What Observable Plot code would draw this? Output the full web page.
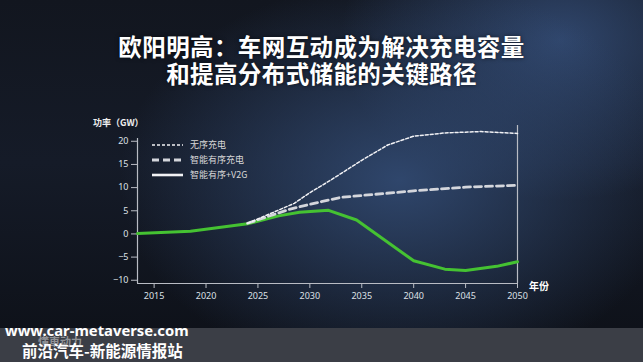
<!DOCTYPE html>
<html><head><meta charset="utf-8">
<script src="https://cdn.jsdelivr.net/npm/d3@7"></script>
<script src="https://cdn.jsdelivr.net/npm/@observablehq/plot@0.6"></script>
<style>
html,body{margin:0;padding:0;width:643px;height:362px;overflow:hidden;}
body{position:relative;font-family:"Noto Sans CJK SC","Noto Sans",sans-serif;
 background:
  radial-gradient(ellipse 280px 200px at 400px 180px, rgba(52,78,120,0.85), rgba(52,78,120,0) 100%),
  radial-gradient(ellipse 220px 160px at 560px 40px, rgba(60,90,140,0.7), rgba(60,90,140,0) 100%),
  linear-gradient(180deg,#12161f 0%,#151b28 45%,#0d1017 100%);}
#chart{position:absolute;left:0;top:0;}
.abs{position:absolute;}
.title{left:0;width:643px;text-align:center;color:#fff;font-weight:bold;font-size:23.5px;line-height:24px;letter-spacing:0.4px;text-shadow:0 0 4px rgba(0,0,0,.6);}
#t1{top:34px;}
#t2{top:61px;}
#ylab{left:93px;top:116px;color:#eee;font-size:9px;font-weight:bold;}
#xlab{left:529px;top:278px;color:#fff;font-size:10px;font-weight:bold;}
#legend{left:152px;top:137px;color:#d8d8d8;font-size:9px;}
#legend div{height:15px;display:flex;align-items:center;}
#legend svg{margin-right:7px;}
#band{left:0;top:328px;width:643px;height:34px;background:#3b3e46;}
#wm1{left:5px;top:322px;color:#fff;font-size:14.8px;line-height:17px;font-weight:bold;font-family:"Noto Sans",sans-serif;}
#wm2{left:22px;top:342px;color:#fff;font-size:15.5px;line-height:17px;font-weight:bold;}
#wm3{left:38px;top:336px;color:rgba(255,255,255,0.45);font-size:11px;line-height:11px;font-weight:bold;}
</style></head><body>
<div id="band" class="abs"></div>
<div id="chart"></div>
<div id="t1" class="abs title">欧阳明高：车网互动成为解决充电容量</div>
<div id="t2" class="abs title">和提高分布式储能的关键路径</div>
<div id="ylab" class="abs">功率（GW）</div>
<div id="xlab" class="abs">年份</div>
<div id="legend" class="abs"></div>
<div id="wm3" class="abs">懂車动力</div>
<div id="wm1" class="abs">www.car-metaverse.com</div>
<div id="wm2" class="abs">前沿汽车-新能源情报站</div>
<script>
// Series names
const seriesNames = ["无序充电", "智能有序充电", "智能有序+V2G"];
// 无序充电 (uncontrolled charging)
const yearsA = [2024, 2026, 2028.5, 2030, 2032, 2035, 2037.5, 2040, 2043, 2046.5, 2050];
const valuesA = [2.3, 4.2, 6.6, 8.9, 11.6, 15.9, 19.2, 21.1, 21.8, 22.1, 21.7];
// 智能有序充电 (smart charging)
const yearsB = [2024, 2026, 2028, 2030, 2033, 2035, 2040, 2045, 2050];
const valuesB = [2.3, 3.8, 5.3, 6.4, 7.9, 8.3, 9.3, 10.1, 10.5];
// 智能有序+V2G
const yearsC = [2013.4, 2018.5, 2024, 2027, 2029, 2031.8, 2034.5, 2040, 2043, 2045, 2048, 2050];
const valuesC = [0.1, 0.6, 2.2, 3.9, 4.7, 5.1, 3.0, -5.8, -7.6, -7.9, -7.0, -6.0];
// ticks
const xTicks = [2015, 2020, 2025, 2030, 2035, 2040, 2045, 2050];
const yTicks = [-10, -5, 0, 5, 10, 15, 20];

const A = yearsA.map((x, i) => ({x, y: valuesA[i]}));
const B = yearsB.map((x, i) => ({x, y: valuesB[i]}));
const C = yearsC.map((x, i) => ({x, y: valuesC[i]}));

const axisColor = "#b9bcc4";
const chart = Plot.plot({
  width: 643, height: 362,
  marginLeft: 137, marginRight: 126, marginTop: 138, marginBottom: 79,
  x: {domain: [2013.4, 2050]},
  y: {domain: [-10.7, 20.6]},
  style: {background: "transparent", color: "#dde0e6", fontSize: "9px", fontFamily: "'Noto Sans','DejaVu Sans',sans-serif"},
  marks: [
    Plot.axisX({ticks: xTicks, tickFormat: d => String(d), tickSize: 5, tickPadding: 4, label: null, stroke: axisColor}),
    Plot.axisY({ticks: yTicks, tickSize: 6, tickPadding: 3, label: null, stroke: axisColor}),
    Plot.ruleX([2013.4], {stroke: axisColor, strokeWidth: 1.2}),
    Plot.ruleY([-10.7], {stroke: axisColor, strokeWidth: 1.2}),
    Plot.ruleX([2050], {y1: -10.7, y2: 23.4, stroke: axisColor, strokeWidth: 1.2}),
    Plot.line(C, {x: "x", y: "y", stroke: "#45c232", strokeWidth: 3, curve: "linear", strokeLinejoin: "round"}),
    Plot.line(B, {x: "x", y: "y", stroke: "#d4d6dc", strokeWidth: 2.8, strokeDasharray: "7,4", curve: "linear"}),
    Plot.line(A, {x: "x", y: "y", stroke: "#f2f2f5", strokeWidth: 1.5, strokeDasharray: "3,2", curve: "linear"})
  ]
});
document.getElementById("chart").appendChild(chart);

// legend
const styles = [
  {stroke: "#f2f2f5", w: 1.5, dash: "3,2"},
  {stroke: "#d4d6dc", w: 2.8, dash: "7,4"},
  {stroke: "#f2f2f5", w: 2.6, dash: null}
];
const leg = document.getElementById("legend");
seriesNames.forEach((name, i) => {
  const s = styles[i];
  const row = document.createElement("div");
  row.innerHTML = `<svg width="31" height="6"><line x1="0" y1="3" x2="31" y2="3" stroke="${s.stroke}" stroke-width="${s.w}" ${s.dash ? `stroke-dasharray="${s.dash}"` : ""}/></svg><span>${name}</span>`;
  leg.appendChild(row);
});
</script>
</body></html>
